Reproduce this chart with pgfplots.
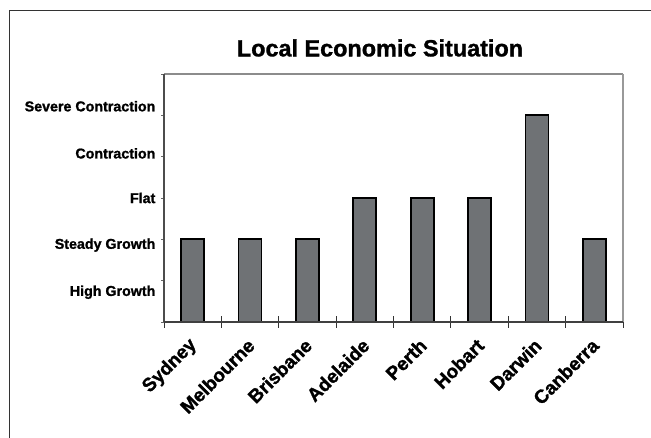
\documentclass[border=0pt]{standalone}
\usepackage{pgfplots}
\pgfplotsset{compat=1.18}
\usepackage{fontspec}
\setmainfont{Liberation Sans}[BoldFeatures={FakeBold=1.3}]
\definecolor{barfill}{HTML}{6F7275}
\begin{document}
\begin{tikzpicture}
\useasboundingbox (0,0) rectangle (651bp,438bp);
\fill[white] (0,0) rectangle (651bp,438bp);
\draw[line width=1bp, black!80] (9bp,0) -- (9bp,427bp) -- (651bp,427bp);
\node[font=\fontsize{23.5}{26}\selectfont\bfseries] at (380bp,390bp) {Local Economic Situation};
\begin{axis}[
  at={(164bp,116bp)}, anchor=south west,
  scale only axis, width=459bp, height=248bp,
  xmin=-0.5, xmax=7.5, ymin=0, ymax=6,
  axis line style={draw=none},
  ybar, bar width=23bp,
  xtick={0,...,7},
  xticklabels={Sydney,Melbourne,Brisbane,Adelaide,Perth,Hobart,Darwin,Canberra},
  major x tick style={draw=none},
  minor xtick={-0.5,0.5,...,7.5},
  minor tick length=12bp,
  minor x tick style={black!80, line width=1bp},
  tick align=center,
  xtick pos=bottom, ytick pos=left,
  xticklabel style={font=\fontsize{19}{21}\selectfont\bfseries, xshift=3.5bp, yshift=-15.7bp, rotate=45, anchor=east},
  ytick={0.72,1.86,3.0,4.08,5.22},
  yticklabels={High Growth,Steady Growth,Flat,Contraction,Severe Contraction},
  major y tick style={draw=none},
  yticklabel style={font=\fontsize{14.3}{16}\selectfont\bfseries, anchor=east, xshift=-3bp},
  extra y ticks={0,1,2,3,4,5,6},
  extra y tick labels={},
  extra tick style={major tick length=2.5bp, tick align=outside, major y tick style={draw=black!60, line width=0.8bp}},
  clip=false,
]
\addplot[fill=barfill, draw=black, line width=1.8bp] coordinates {(0,2) (1,2) (2,2) (3,3) (4,3) (5,3) (6,5) (7,2)};
\draw[line width=2.2bp, black!45] (rel axis cs:0,1) -- (rel axis cs:1,1);
\draw[line width=1.5bp, black!40] (rel axis cs:1,0) -- (rel axis cs:1,1);
\draw[line width=2bp, black!70] (rel axis cs:0,0) -- (rel axis cs:0,1);
\draw[line width=1.5bp, black!75] (rel axis cs:0,0) -- (rel axis cs:1,0);
\end{axis}
\end{tikzpicture}
\end{document}
